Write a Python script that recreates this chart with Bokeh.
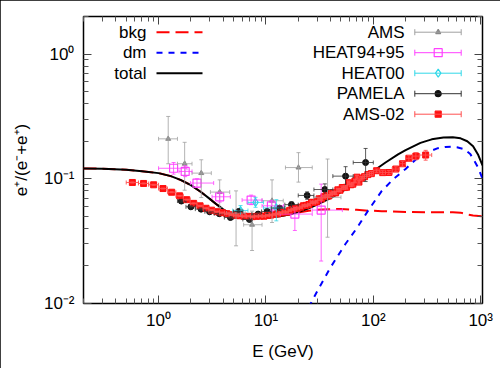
import math
from bokeh.plotting import figure
from bokeh.models import (Range1d, LogAxis, FixedTicker, Whisker, TeeHead,
                          ColumnDataSource, LinearScale)
from bokeh.core.properties import value
from bokeh.embed import file_html
from bokeh.resources import INLINE

FONT = "Liberation Sans"

# ---------------- model curves ----------------
total_E = [0.2, 0.3, 0.5, 0.7, 1.0, 1.3, 1.6, 2.0, 2.5, 3.0, 3.5, 4.0, 4.5, 5.0, 6.0, 7.0, 8.5, 10, 13, 16,
           20, 25, 30, 40, 50, 60, 70, 90, 110, 130, 170, 200, 275, 350, 450, 550, 650, 750, 850, 950, 1040]
total_f = [0.121, 0.1205, 0.118, 0.115, 0.111, 0.105, 0.098, 0.089, 0.078, 0.069, 0.062, 0.057, 0.053, 0.0505,
           0.0488, 0.0482, 0.0482, 0.0486, 0.0498, 0.0515, 0.054, 0.058, 0.062, 0.070, 0.078, 0.086, 0.094,
           0.108, 0.122, 0.135, 0.157, 0.170, 0.194, 0.207, 0.214, 0.215, 0.211, 0.200, 0.182, 0.155, 0.128]

bkg_E = [0.2, 0.3, 0.5, 0.7, 1.0, 1.3, 1.6, 2.0, 2.5, 3.0, 3.5, 4.0, 4.5, 5.0, 6.0, 7.0, 8.5, 10, 13, 16,
         20, 25, 30, 40, 50, 70, 90, 120, 150, 200, 300, 400, 550, 650, 750, 850, 1040]
bkg_f = [0.121, 0.1205, 0.118, 0.115, 0.111, 0.105, 0.098, 0.089, 0.078, 0.069, 0.062, 0.057, 0.053, 0.0505,
         0.0488, 0.0482, 0.0482, 0.0486, 0.0498, 0.0515, 0.0535, 0.0555, 0.0565, 0.057, 0.0572, 0.0565,
         0.0555, 0.055, 0.0547, 0.0542, 0.054, 0.054, 0.054, 0.0535, 0.0518, 0.0508, 0.050]

dm_E = [25, 30, 40, 55, 70, 90, 120, 155, 200, 260, 330, 400, 470, 530, 600, 700, 800, 870, 950, 1040]
dm_f = [0.0093, 0.0125, 0.0195, 0.030, 0.040, 0.056, 0.080, 0.100, 0.120, 0.148, 0.165, 0.176, 0.180,
        0.181, 0.179, 0.173, 0.158, 0.140, 0.122, 0.100]

# ---------------- AMS (AMS-01) ----------------
ams_E = [1.23, 1.75, 2.5, 3.71, 5.27, 7.43, 11.4, 20.1, 37.5]
ams_Elo = [1.0, 1.5, 2.05, 3.04, 4.3, 6.2, 9.2, 15.2, 27.8]
ams_Ehi = [1.5, 2.05, 3.1, 4.6, 6.4, 9.2, 14.5, 27.0, 50.0]
ams_f = [0.209, 0.132, 0.111, 0.0782, 0.053, 0.0428, 0.0667, 0.123, 0.071]
ams_flo = [0.132, 0.081, 0.0707, 0.0587, 0.029, 0.0266, 0.0446, 0.094, 0.034]
ams_fhi = [0.316, 0.196, 0.142, 0.098, 0.080, 0.055, 0.098, 0.162, 0.144]

# ---------------- HEAT94+95 ----------------
heat_E = [1.38, 1.77, 2.28, 3.71, 7.28, 11.25, 18.6, 32.7]
heat_Elo = [1.0, 1.55, 1.98, 3.15, 6.0, 9.2, 13.6, 27.0]
heat_Ehi = [1.84, 2.05, 3.26, 4.66, 9.2, 14.6, 27.0, 51.5]
heat_f = [0.1214, 0.1145, 0.0924, 0.0717, 0.0675, 0.0607, 0.0521, 0.0561]
heat_flo = [0.109, 0.104, 0.085, 0.065, 0.062, 0.055, 0.0385, 0.0219]
heat_fhi = [0.135, 0.127, 0.100, 0.078, 0.074, 0.067, 0.059, 0.0906]

# ---------------- HEAT00 ----------------
heat00_E = [5.8, 8.0, 12.5]
heat00_Elo = [4.9, 6.8, 9.5]
heat00_Ehi = [6.8, 9.5, 15.0]
heat00_f = [0.0556, 0.0646, 0.0584]
heat00_flo = [0.050, 0.059, 0.046]
heat00_fhi = [0.061, 0.071, 0.068]

# ---------------- PAMELA ----------------
pamela_E = [1.63, 2.0, 2.49, 2.99, 3.68, 4.67, 5.57, 7.02, 8.46, 10.26, 13.4, 17.3, 24.2, 35.4, 55.2, 84.8]
pamela_Elo = [1.5, 1.8, 2.2, 2.7, 3.3, 4.1, 5.0, 6.1, 7.4, 9.1, 11.2, 15.0, 20.0, 28.0, 42.0, 65.0]
pamela_Ehi = [1.8, 2.2, 2.7, 3.3, 4.1, 5.0, 6.1, 7.4, 9.1, 11.2, 15.0, 20.0, 28.0, 42.0, 65.0, 100.0]
pamela_f = [0.0663, 0.0596, 0.0571, 0.0544, 0.0525, 0.0489, 0.0547, 0.0472, 0.0521, 0.0547, 0.0582,
            0.0620, 0.0735, 0.0820, 0.1050, 0.1350]
pamela_err = [0.0014, 0.0012, 0.0011, 0.0011, 0.0011, 0.0012, 0.0013, 0.0015, 0.0018, 0.0022, 0.0025,
              0.0035, 0.0050, 0.0090, 0.0200, 0.0400]

# ---------------- AMS-02 ----------------
ams02_edges = [0.50, 0.65, 0.81, 1.00, 1.21, 1.45, 1.70, 1.97, 2.28, 2.60, 2.94, 3.30, 3.70, 4.11, 4.54,
               5.00, 5.50, 6.00, 6.56, 7.16, 7.80, 8.50, 9.21, 9.95, 10.73, 11.54, 12.39, 13.27, 14.19,
               15.15, 16.15, 17.18, 18.25, 19.37, 20.54, 21.76, 23.07, 24.45, 25.87, 27.34, 28.87, 30.45,
               32.10, 33.80, 35.60, 37.45, 39.40, 41.40, 43.50, 45.65, 47.90, 50.20, 52.60, 55.10, 57.60,
               60.30, 63.00, 66.00, 69.00, 72.00, 75.00, 80.00, 86.00, 92.00, 100, 115, 130, 150, 175,
               200, 230, 270, 350]
ams02_f = [0.0934, 0.0917, 0.0895, 0.0835, 0.0780, 0.0730, 0.0680, 0.0635, 0.0607, 0.0580,
           0.0560, 0.0545, 0.0535, 0.0525, 0.0515, 0.0508, 0.0505, 0.0500, 0.0500, 0.0497,
           0.0500, 0.0503, 0.0501, 0.0508, 0.0512, 0.0518, 0.0523, 0.0532, 0.0542, 0.0540,
           0.0558, 0.0570, 0.0575, 0.0582, 0.0592, 0.0608, 0.0612, 0.0622, 0.0648, 0.0645,
           0.0655, 0.0690, 0.0690, 0.0718, 0.0730, 0.0728, 0.0760, 0.0772, 0.0770, 0.0815,
           0.0810, 0.0850, 0.0850, 0.0855, 0.0930, 0.0895, 0.0905, 0.0960, 0.1030, 0.0940,
           0.1010, 0.1040, 0.1080, 0.1100, 0.1160, 0.1120, 0.1123, 0.1197, 0.1320, 0.1460,
           0.1520, 0.1550]
ams02_err = [0.0009, 0.0008, 0.0008, 0.0007, 0.0007, 0.0006, 0.0006, 0.0006, 0.0006, 0.0006,
             0.0006, 0.0006, 0.0006, 0.0006, 0.0006, 0.0006, 0.0006, 0.0006, 0.0006, 0.0006,
             0.0006, 0.0007, 0.0007, 0.0007, 0.0007, 0.0008, 0.0008, 0.0008, 0.0009, 0.0009,
             0.0010, 0.0010, 0.0011, 0.0011, 0.0012, 0.0012, 0.0013, 0.0013, 0.0014, 0.0015,
             0.0015, 0.0016, 0.0017, 0.0018, 0.0019, 0.0020, 0.0021, 0.0022, 0.0023, 0.0024,
             0.0025, 0.0026, 0.0027, 0.0028, 0.0030, 0.0030, 0.0032, 0.0033, 0.0035, 0.0036,
             0.0035, 0.0038, 0.0040, 0.0042, 0.0035, 0.0040, 0.0040, 0.0050, 0.0060, 0.0080,
             0.0100, 0.0140]

# ---------------- axes ticks ----------------
x_major = [1, 10, 100, 1000]
x_labels = ["10⁰", "10¹", "10²", "10³"]
y_major = [0.01, 0.1, 1]
y_labels = ["10⁻²", "10⁻¹", "10⁰"]
x_minor = [m * 10.0 ** k for k in range(-1, 3) for m in range(2, 10)]
y_minor = [m * 10.0 ** k for k in range(-2, 1) for m in range(2, 10)]

legend_left = ["bkg", "dm", "total"]
legend_right = ["AMS", "HEAT94+95", "HEAT00", "PAMELA", "AMS-02"]

# ---------------- colours ----------------
C_BKG = "#ff0000"
C_DM = "#0000ff"
C_TOT = "#000000"
C_AMS = "#a0a0a0"
C_HEAT = "#ff40ff"
C_HEAT00 = "#30d8e8"
C_PAM = "#111111"
C_AMS02 = "#ff1010"

FW, FH = 399, 287
p = figure(x_axis_type="log", y_axis_type="log",
           x_range=Range1d(0.2, 1040), y_range=Range1d(0.01, 2),
           frame_width=FW, frame_height=FH,
           min_border_left=83, min_border_top=16, min_border_right=18, min_border_bottom=65,
           output_backend="svg", toolbar_location=None,
           x_axis_label="E (GeV)", y_axis_label="e⁺/(e⁻+e⁺)")
p.styles = {"outline": "1px solid black", "outline-offset": "-1px"}
p.grid.visible = False
p.background_fill_color = "white"
p.border_fill_color = "white"
p.outline_line_color = "black"
p.outline_line_width = 1.5

p.extra_x_ranges = {"px": Range1d(0, FW)}
p.extra_y_ranges = {"py": Range1d(FH, 0)}
p.extra_x_scales = {"px": LinearScale()}
p.extra_y_scales = {"py": LinearScale()}


def style_axis(ax, labels_on=True):
    ax.axis_line_color = None
    ax.major_tick_in = 8
    ax.major_tick_out = 0
    ax.minor_tick_in = 5
    ax.minor_tick_out = 0
    ax.major_tick_line_color = "#444444"
    ax.minor_tick_line_color = "#555555"
    ax.major_label_text_font = FONT
    ax.axis_label_text_font = FONT
    ax.axis_label_text_font_style = "normal"
    ax.axis_label_text_font_size = "17px"
    ax.axis_label_text_color = "black"
    if labels_on:
        ax.major_label_text_font_size = "17px"
        ax.major_label_text_color = "black"
    else:
        ax.major_label_text_font_size = "1px"
        ax.major_label_text_alpha = 0
        ax.major_label_standoff = 0


xt = FixedTicker(ticks=x_major, minor_ticks=x_minor)
yt = FixedTicker(ticks=y_major, minor_ticks=y_minor)
p.xaxis.ticker = xt
p.yaxis.ticker = yt
p.xaxis.major_label_overrides = dict(zip(x_major, x_labels))
p.yaxis.major_label_overrides = dict(zip(y_major, y_labels))
for ax in p.xaxis:
    style_axis(ax)
    ax.major_label_standoff = 7
    ax.axis_label_standoff = 9
for ax in p.yaxis:
    style_axis(ax)
    ax.major_label_standoff = 9
    ax.axis_label_standoff = 10

top_ax = LogAxis(ticker=FixedTicker(ticks=x_major, minor_ticks=x_minor))
style_axis(top_ax, labels_on=False)
p.add_layout(top_ax, "above")
right_ax = LogAxis(ticker=FixedTicker(ticks=y_major, minor_ticks=y_minor))
style_axis(right_ax, labels_on=False)
p.add_layout(right_ax, "right")

# ---------------- curves ----------------
p.line(bkg_E, bkg_f, line_color=C_BKG, line_width=2, line_dash="13 6")
p.line(dm_E, dm_f, line_color=C_DM, line_width=2, line_dash="6 6")
p.line(total_E, total_f, line_color=C_TOT, line_width=2)


def add_err(src, color, head=4, alpha=0.8):
    for base, lo, hi, dim in (("x", "ylo", "yhi", "height"), ("y", "xlo", "xhi", "width")):
        p.add_layout(Whisker(source=src, base=base, lower=lo, upper=hi, dimension=dim,
                             line_color=color, line_width=1, line_alpha=alpha, level="glyph",
                             upper_head=TeeHead(size=head, line_color=color, line_width=1, line_alpha=alpha),
                             lower_head=TeeHead(size=head, line_color=color, line_width=1, line_alpha=alpha)))


# AMS
src = ColumnDataSource(dict(x=ams_E, y=ams_f, xlo=ams_Elo, xhi=ams_Ehi, ylo=ams_flo, yhi=ams_fhi))
add_err(src, C_AMS)
p.scatter("x", "y", source=src, marker="triangle", size=5, fill_color="#888888", line_color="#888888")

# HEAT94+95
src = ColumnDataSource(dict(x=heat_E, y=heat_f, xlo=heat_Elo, xhi=heat_Ehi, ylo=heat_flo, yhi=heat_fhi))
add_err(src, C_HEAT)
p.scatter("x", "y", source=src, marker="square", size=8, fill_color=None, line_color=C_HEAT, line_width=1.2)

# HEAT00
src = ColumnDataSource(dict(x=heat00_E, y=heat00_f, xlo=heat00_Elo, xhi=heat00_Ehi,
                            ylo=heat00_flo, yhi=heat00_fhi))
add_err(src, C_HEAT00)
p.scatter("x", "y", source=src, marker="diamond", size=8, fill_color=None, line_color=C_HEAT00, line_width=1.2)

# PAMELA
src = ColumnDataSource(dict(x=pamela_E, y=pamela_f, xlo=pamela_Elo, xhi=pamela_Ehi,
                            ylo=[f - e for f, e in zip(pamela_f, pamela_err)],
                            yhi=[f + e for f, e in zip(pamela_f, pamela_err)]))
add_err(src, "#333333")
p.scatter("x", "y", source=src, marker="circle", size=6, fill_color=C_PAM, line_color=C_PAM)

# AMS-02
lo = ams02_edges[:-1]
hi = ams02_edges[1:]
src = ColumnDataSource(dict(x=[math.sqrt(a * b) for a, b in zip(lo, hi)], y=ams02_f, xlo=lo, xhi=hi,
                            ylo=[f - e for f, e in zip(ams02_f, ams02_err)],
                            yhi=[f + e for f, e in zip(ams02_f, ams02_err)]))
add_err(src, "#ff5050", head=4, alpha=0.9)
p.scatter("x", "y", source=src, marker="square", size=6, fill_color=C_AMS02, line_color=C_AMS02)

# ---------------- legends (frame-pixel coordinates) ----------------
rows = [15.7, 36.2, 56.7, 77.2, 97.7]
p.text(x=[63] * 3, y=rows[:3], text=legend_left, x_range_name="px", y_range_name="py",
       text_font=value(FONT), text_font_size="17px", text_align="right", text_baseline="middle",
       text_color="black")
for i, (col, dash) in enumerate(((C_BKG, "13 6"), (C_DM, "6 6"), (C_TOT, "solid"))):
    p.line([73, 119], [rows[i], rows[i]], x_range_name="px", y_range_name="py",
           line_color=col, line_width=2, line_dash=dash)

p.text(x=[321] * 5, y=rows, text=legend_right, x_range_name="px", y_range_name="py",
       text_font=value(FONT), text_font_size="17px", text_align="right", text_baseline="middle",
       text_color="black")
leg_cols = [C_AMS, C_HEAT, C_HEAT00, "#333333", "#ff5050"]
for i, col in enumerate(leg_cols):
    lsrc = ColumnDataSource(dict(y=[rows[i]], lo=[331.3], hi=[377.7]))
    p.add_layout(Whisker(source=lsrc, base="y", lower="lo", upper="hi", dimension="width",
                         x_range_name="px", y_range_name="py", line_color=col, line_width=1, level="glyph",
                         upper_head=TeeHead(size=6, line_color=col, line_width=1),
                         lower_head=TeeHead(size=6, line_color=col, line_width=1)))
mk = [("triangle", 5, "#888888", "#888888"), ("square", 8, None, C_HEAT), ("diamond", 8, None, C_HEAT00),
      ("circle", 6, C_PAM, C_PAM), ("square", 6, C_AMS02, C_AMS02)]
for i, (m, s, fc, lc) in enumerate(mk):
    p.scatter([354.7], [rows[i]], x_range_name="px", y_range_name="py", marker=m, size=s,
              fill_color=fc, line_color=lc, line_width=1.2)

open("out.html", "w").write(file_html(p, INLINE))
